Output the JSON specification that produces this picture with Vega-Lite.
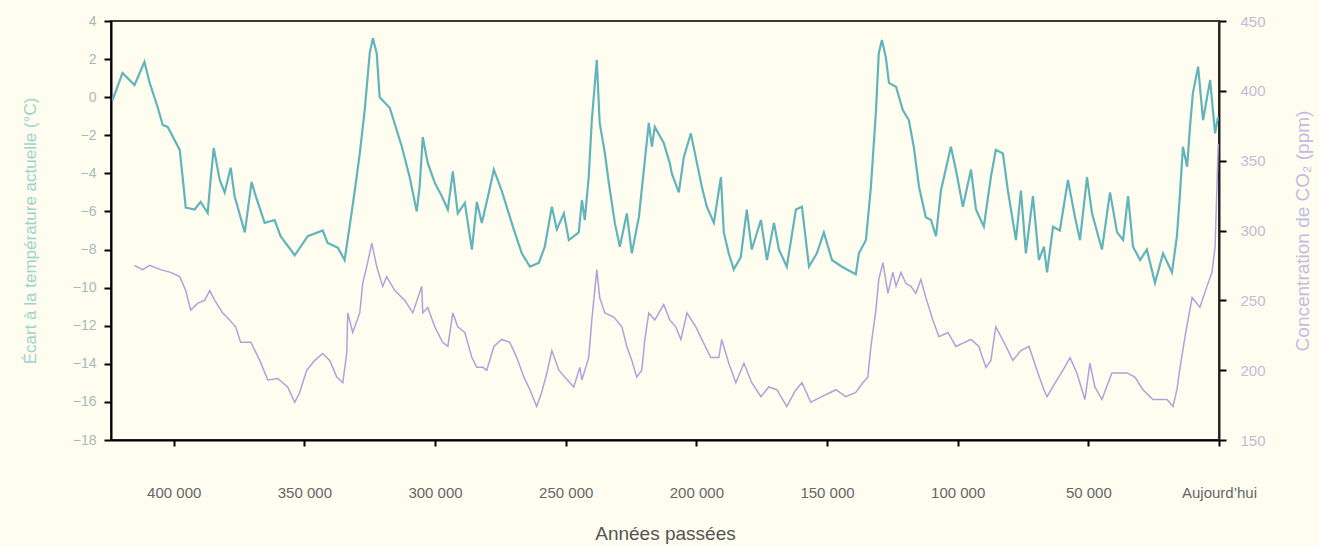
{
  "$schema": "https://vega.github.io/schema/vega-lite/v6.json",
  "width": 1108,
  "height": 419,
  "autosize": {"type": "none"},
  "padding": {"left": 111, "top": 21, "right": 100, "bottom": 106},
  "background": "#fffdf0",
  "config": {
    "view": {"stroke": "#3a3a3a", "strokeWidth": 2},
    "font": "Liberation Sans",
    "axis": {"grid": false, "labelFont": "Liberation Sans", "titleFont": "Liberation Sans", "titleFontWeight": "normal", "labelFontSize": 14, "titleFontSize": 17}
  },
  "datasets": {
    "temp": [
      {"annees": 423400, "temp": -0.15}, {"annees": 419600, "temp": 1.27}, {"annees": 415000, "temp": 0.64}, {"annees": 411200, "temp": 1.85},
      {"annees": 409200, "temp": 0.75}, {"annees": 406200, "temp": -0.5}, {"annees": 404200, "temp": -1.46}, {"annees": 402300, "temp": -1.56},
      {"annees": 397700, "temp": -2.77}, {"annees": 396600, "temp": -4.19}, {"annees": 395400, "temp": -5.8}, {"annees": 392000, "temp": -5.9},
      {"annees": 389700, "temp": -5.5}, {"annees": 387000, "temp": -6.08}, {"annees": 385900, "temp": -4.35}, {"annees": 384700, "temp": -2.67},
      {"annees": 382400, "temp": -4.35}, {"annees": 380500, "temp": -5.0}, {"annees": 378200, "temp": -3.7}, {"annees": 376700, "temp": -5.2},
      {"annees": 372800, "temp": -7.1}, {"annees": 370200, "temp": -4.45}, {"annees": 368600, "temp": -5.2}, {"annees": 365200, "temp": -6.6},
      {"annees": 361400, "temp": -6.45}, {"annees": 359100, "temp": -7.3}, {"annees": 353700, "temp": -8.3}, {"annees": 348700, "temp": -7.3},
      {"annees": 343000, "temp": -7.0}, {"annees": 341100, "temp": -7.65}, {"annees": 337200, "temp": -7.9}, {"annees": 334600, "temp": -8.55},
      {"annees": 332700, "temp": -6.8}, {"annees": 330700, "temp": -4.9}, {"annees": 328800, "temp": -2.95}, {"annees": 326900, "temp": -0.67},
      {"annees": 325000, "temp": 2.3}, {"annees": 323800, "temp": 3.1}, {"annees": 322300, "temp": 2.3}, {"annees": 321200, "temp": 0.0},
      {"annees": 317300, "temp": -0.57}, {"annees": 312700, "temp": -2.6}, {"annees": 309700, "temp": -4.2}, {"annees": 307000, "temp": -6.0},
      {"annees": 305900, "temp": -4.7}, {"annees": 304700, "temp": -2.1}, {"annees": 302800, "temp": -3.45}, {"annees": 300100, "temp": -4.5},
      {"annees": 297400, "temp": -5.2}, {"annees": 295100, "temp": -5.9}, {"annees": 293200, "temp": -3.9}, {"annees": 291300, "temp": -6.1},
      {"annees": 288600, "temp": -5.55}, {"annees": 285900, "temp": -8.0}, {"annees": 284000, "temp": -5.5}, {"annees": 282100, "temp": -6.6},
      {"annees": 279400, "temp": -5.0}, {"annees": 277500, "temp": -3.8}, {"annees": 274500, "temp": -4.9}, {"annees": 271800, "temp": -6.1},
      {"annees": 269500, "temp": -7.1}, {"annees": 266800, "temp": -8.2}, {"annees": 263700, "temp": -8.9}, {"annees": 260300, "temp": -8.7},
      {"annees": 258000, "temp": -7.85}, {"annees": 255300, "temp": -5.75}, {"annees": 253400, "temp": -6.95}, {"annees": 250700, "temp": -6.1},
      {"annees": 248800, "temp": -7.5}, {"annees": 245000, "temp": -7.1}, {"annees": 243800, "temp": -5.4}, {"annees": 242700, "temp": -6.45},
      {"annees": 241200, "temp": -4.2}, {"annees": 240000, "temp": -1.2}, {"annees": 238100, "temp": 1.95}, {"annees": 237000, "temp": -1.35},
      {"annees": 235000, "temp": -2.95}, {"annees": 233500, "temp": -4.5}, {"annees": 231200, "temp": -6.6}, {"annees": 229300, "temp": -7.85},
      {"annees": 226600, "temp": -6.1}, {"annees": 224700, "temp": -8.2}, {"annees": 222000, "temp": -6.3}, {"annees": 219700, "temp": -3.3},
      {"annees": 218200, "temp": -1.35}, {"annees": 217000, "temp": -2.6}, {"annees": 215900, "temp": -1.56}, {"annees": 212500, "temp": -2.4},
      {"annees": 210200, "temp": -3.45}, {"annees": 209400, "temp": -4.0}, {"annees": 206700, "temp": -5.0}, {"annees": 204800, "temp": -3.15},
      {"annees": 202100, "temp": -1.9}, {"annees": 199800, "temp": -3.45}, {"annees": 197900, "temp": -4.7}, {"annees": 196000, "temp": -5.75},
      {"annees": 193300, "temp": -6.6}, {"annees": 190600, "temp": -4.2}, {"annees": 189500, "temp": -7.1}, {"annees": 187600, "temp": -8.2},
      {"annees": 185700, "temp": -9.05}, {"annees": 183000, "temp": -8.4}, {"annees": 180700, "temp": -5.9}, {"annees": 178800, "temp": -8.0},
      {"annees": 175300, "temp": -6.45}, {"annees": 173000, "temp": -8.55}, {"annees": 170300, "temp": -6.6}, {"annees": 168400, "temp": -8.0},
      {"annees": 165400, "temp": -8.9}, {"annees": 161900, "temp": -5.9}, {"annees": 159600, "temp": -5.75}, {"annees": 156900, "temp": -8.9},
      {"annees": 153900, "temp": -8.2}, {"annees": 151200, "temp": -7.1}, {"annees": 148100, "temp": -8.55}, {"annees": 144300, "temp": -8.9},
      {"annees": 139000, "temp": -9.3}, {"annees": 137800, "temp": -8.2}, {"annees": 135100, "temp": -7.5}, {"annees": 133200, "temp": -4.7},
      {"annees": 131300, "temp": -0.8}, {"annees": 130200, "temp": 2.3}, {"annees": 129000, "temp": 3.0}, {"annees": 127500, "temp": 2.1},
      {"annees": 126300, "temp": 0.75}, {"annees": 123600, "temp": 0.55}, {"annees": 121000, "temp": -0.67}, {"annees": 118700, "temp": -1.2},
      {"annees": 116800, "temp": -2.6}, {"annees": 114800, "temp": -4.7}, {"annees": 112200, "temp": -6.3}, {"annees": 110200, "temp": -6.45},
      {"annees": 108300, "temp": -7.3}, {"annees": 106400, "temp": -4.9}, {"annees": 102600, "temp": -2.6}, {"annees": 100700, "temp": -3.8},
      {"annees": 98000, "temp": -5.75}, {"annees": 94900, "temp": -3.8}, {"annees": 93000, "temp": -5.9}, {"annees": 90000, "temp": -6.8},
      {"annees": 87300, "temp": -4.2}, {"annees": 85400, "temp": -2.77}, {"annees": 82700, "temp": -2.95}, {"annees": 80800, "temp": -4.9},
      {"annees": 77700, "temp": -7.5}, {"annees": 75800, "temp": -4.9}, {"annees": 73900, "temp": -8.2}, {"annees": 71200, "temp": -5.2},
      {"annees": 68900, "temp": -8.55}, {"annees": 67000, "temp": -7.85}, {"annees": 65800, "temp": -9.2}, {"annees": 63500, "temp": -6.8},
      {"annees": 60900, "temp": -7.0}, {"annees": 57800, "temp": -4.35}, {"annees": 55100, "temp": -6.3}, {"annees": 53200, "temp": -7.5},
      {"annees": 50500, "temp": -4.2}, {"annees": 48600, "temp": -6.1}, {"annees": 44800, "temp": -8.0}, {"annees": 41700, "temp": -5.0},
      {"annees": 39000, "temp": -7.1}, {"annees": 36700, "temp": -7.5}, {"annees": 34800, "temp": -5.2}, {"annees": 32900, "temp": -7.85},
      {"annees": 30200, "temp": -8.55}, {"annees": 27600, "temp": -8.0}, {"annees": 24500, "temp": -9.75}, {"annees": 21400, "temp": -8.2},
      {"annees": 18000, "temp": -9.2}, {"annees": 16100, "temp": -7.3}, {"annees": 14900, "temp": -5.0}, {"annees": 13800, "temp": -2.6},
      {"annees": 12200, "temp": -3.65}, {"annees": 11100, "temp": -1.56}, {"annees": 10000, "temp": 0.2}, {"annees": 8000, "temp": 1.6},
      {"annees": 6100, "temp": -1.2}, {"annees": 3400, "temp": 0.9}, {"annees": 1500, "temp": -1.9}, {"annees": 400, "temp": -1.05}
    ],
    "co2": [
      {"annees": 415000, "co2": 275}, {"annees": 411900, "co2": 272}, {"annees": 409200, "co2": 275}, {"annees": 405000, "co2": 272},
      {"annees": 401200, "co2": 270}, {"annees": 397700, "co2": 267}, {"annees": 395400, "co2": 257}, {"annees": 393500, "co2": 243},
      {"annees": 390800, "co2": 248}, {"annees": 388200, "co2": 250}, {"annees": 386200, "co2": 257}, {"annees": 384300, "co2": 250},
      {"annees": 381300, "co2": 241}, {"annees": 378600, "co2": 236}, {"annees": 376300, "co2": 231}, {"annees": 374400, "co2": 220},
      {"annees": 370500, "co2": 220}, {"annees": 367100, "co2": 207}, {"annees": 364000, "co2": 193}, {"annees": 360200, "co2": 194},
      {"annees": 356400, "co2": 188}, {"annees": 353700, "co2": 177}, {"annees": 351800, "co2": 184}, {"annees": 349100, "co2": 200},
      {"annees": 346000, "co2": 207}, {"annees": 343000, "co2": 212}, {"annees": 340300, "co2": 207}, {"annees": 337600, "co2": 195},
      {"annees": 335300, "co2": 191}, {"annees": 333800, "co2": 212}, {"annees": 333400, "co2": 241}, {"annees": 331500, "co2": 227},
      {"annees": 328800, "co2": 241}, {"annees": 327700, "co2": 262}, {"annees": 325800, "co2": 277}, {"annees": 324200, "co2": 291},
      {"annees": 322300, "co2": 274}, {"annees": 320000, "co2": 260}, {"annees": 318500, "co2": 267}, {"annees": 315400, "co2": 257},
      {"annees": 311600, "co2": 250}, {"annees": 308500, "co2": 241}, {"annees": 305100, "co2": 260}, {"annees": 304700, "co2": 241},
      {"annees": 302800, "co2": 245}, {"annees": 300100, "co2": 231}, {"annees": 297100, "co2": 220}, {"annees": 295100, "co2": 217},
      {"annees": 293200, "co2": 241}, {"annees": 291300, "co2": 231}, {"annees": 288600, "co2": 227}, {"annees": 285900, "co2": 209},
      {"annees": 284000, "co2": 202}, {"annees": 281700, "co2": 202}, {"annees": 280200, "co2": 200}, {"annees": 277500, "co2": 217},
      {"annees": 274500, "co2": 222}, {"annees": 271400, "co2": 220}, {"annees": 268700, "co2": 209}, {"annees": 266000, "co2": 195},
      {"annees": 263700, "co2": 186}, {"annees": 261100, "co2": 174}, {"annees": 259200, "co2": 184}, {"annees": 257200, "co2": 198},
      {"annees": 255300, "co2": 214}, {"annees": 252600, "co2": 200}, {"annees": 250300, "co2": 195}, {"annees": 246900, "co2": 188},
      {"annees": 244600, "co2": 202}, {"annees": 243800, "co2": 193}, {"annees": 241200, "co2": 209}, {"annees": 240000, "co2": 236},
      {"annees": 238100, "co2": 272}, {"annees": 237000, "co2": 252}, {"annees": 235000, "co2": 241}, {"annees": 231600, "co2": 238},
      {"annees": 228500, "co2": 231}, {"annees": 226600, "co2": 217}, {"annees": 224700, "co2": 207}, {"annees": 222800, "co2": 195},
      {"annees": 220900, "co2": 200}, {"annees": 219700, "co2": 222}, {"annees": 218200, "co2": 241}, {"annees": 215900, "co2": 236},
      {"annees": 212500, "co2": 247}, {"annees": 210200, "co2": 236}, {"annees": 207900, "co2": 231}, {"annees": 205900, "co2": 222},
      {"annees": 203600, "co2": 241}, {"annees": 200200, "co2": 231}, {"annees": 197900, "co2": 222}, {"annees": 194500, "co2": 209},
      {"annees": 191400, "co2": 209}, {"annees": 190300, "co2": 222}, {"annees": 187600, "co2": 205}, {"annees": 184900, "co2": 191},
      {"annees": 181800, "co2": 205}, {"annees": 178800, "co2": 191}, {"annees": 175300, "co2": 181}, {"annees": 172300, "co2": 188},
      {"annees": 169200, "co2": 186}, {"annees": 165400, "co2": 174}, {"annees": 161900, "co2": 186}, {"annees": 159600, "co2": 191},
      {"annees": 156200, "co2": 177}, {"annees": 152000, "co2": 181}, {"annees": 146600, "co2": 186}, {"annees": 142800, "co2": 181},
      {"annees": 139000, "co2": 184}, {"annees": 136300, "co2": 191}, {"annees": 134400, "co2": 195}, {"annees": 133200, "co2": 217},
      {"annees": 131300, "co2": 243}, {"annees": 130200, "co2": 265}, {"annees": 128600, "co2": 277}, {"annees": 126700, "co2": 255},
      {"annees": 124800, "co2": 270}, {"annees": 123600, "co2": 260}, {"annees": 121700, "co2": 270}, {"annees": 119800, "co2": 262},
      {"annees": 117900, "co2": 260}, {"annees": 116000, "co2": 255}, {"annees": 114100, "co2": 265}, {"annees": 112200, "co2": 252},
      {"annees": 109500, "co2": 236}, {"annees": 107200, "co2": 224}, {"annees": 103700, "co2": 227}, {"annees": 100700, "co2": 217},
      {"annees": 94900, "co2": 222}, {"annees": 91900, "co2": 217}, {"annees": 89200, "co2": 202}, {"annees": 87300, "co2": 207},
      {"annees": 85400, "co2": 231}, {"annees": 82300, "co2": 220}, {"annees": 78900, "co2": 207}, {"annees": 75800, "co2": 214},
      {"annees": 72700, "co2": 217}, {"annees": 69300, "co2": 198}, {"annees": 67000, "co2": 186}, {"annees": 65800, "co2": 181},
      {"annees": 62000, "co2": 193}, {"annees": 59700, "co2": 200}, {"annees": 57000, "co2": 209}, {"annees": 54400, "co2": 198},
      {"annees": 51300, "co2": 179}, {"annees": 49400, "co2": 205}, {"annees": 47500, "co2": 188}, {"annees": 44800, "co2": 179},
      {"annees": 41000, "co2": 198}, {"annees": 35200, "co2": 198}, {"annees": 32200, "co2": 195}, {"annees": 29100, "co2": 186},
      {"annees": 25300, "co2": 179}, {"annees": 19900, "co2": 179}, {"annees": 17600, "co2": 174}, {"annees": 16100, "co2": 186},
      {"annees": 14900, "co2": 202}, {"annees": 13000, "co2": 224}, {"annees": 10300, "co2": 252}, {"annees": 7300, "co2": 245},
      {"annees": 4600, "co2": 260}, {"annees": 2700, "co2": 270}, {"annees": 1500, "co2": 288}, {"annees": 800, "co2": 330},
      {"annees": 300, "co2": 362}
    ]
  },
  "layer": [
    {
      "data": {"name": "temp"},
      "mark": {"type": "line", "color": "#62b4bc", "strokeWidth": 2.2, "clip": true},
      "encoding": {
        "x": {
          "field": "annees", "type": "quantitative",
          "scale": {"domain": [0, 424000], "reverse": true, "nice": false, "zero": false},
          "axis": {
            "title": "Années passées", "titleColor": "#555555", "titleFontSize": 19, "titlePadding": 24,
            "values": [0, 50000, 100000, 150000, 200000, 250000, 300000, 350000, 400000],
            "labelExpr": "datum.value == 0 ? 'Aujourd\u2019hui' : replace(format(datum.value, ',d'), ',', ' ')",
            "labelColor": "#666666", "labelFontSize": 15, "labelPadding": 39, "labelFlush": false,
            "domainColor": "#000000", "domainWidth": 2, "tickColor": "#000000", "tickWidth": 2, "tickSize": 6
          }
        },
        "y": {
          "field": "temp", "type": "quantitative",
          "scale": {"domain": [-18, 4], "nice": false, "zero": false},
          "axis": {
            "title": "Écart à la température actuelle (°C)", "titleColor": "#9dd3cb", "titleFontSize": 17, "titlePadding": 33,
            "values": [-18, -16, -14, -12, -10, -8, -6, -4, -2, 0, 2, 4],
            "labelColor": "#a7bab4", "labelFontSize": 14, "labelPadding": 8,
            "domainColor": "#000000", "domainWidth": 2, "tickColor": "#000000", "tickWidth": 2, "tickSize": 7
          }
        }
      }
    },
    {
      "data": {"name": "co2"},
      "mark": {"type": "line", "color": "#aaa4dc", "strokeWidth": 1.5, "clip": true},
      "encoding": {
        "x": {"field": "annees", "type": "quantitative"},
        "y": {
          "field": "co2", "type": "quantitative",
          "scale": {"domain": [150, 450], "nice": false, "zero": false},
          "axis": {
            "orient": "right",
            "title": "Concentration de CO₂ (ppm)", "titleColor": "#c0bce2", "titleFontSize": 19, "titleAngle": 270, "titleBaseline": "top", "titlePadding": 28,
            "values": [150, 200, 250, 300, 350, 400, 450],
            "labelColor": "#bdbdd6", "labelFontSize": 15, "labelPadding": 14,
            "domainColor": "#222222", "domainWidth": 2, "tickColor": "#000000", "tickWidth": 2, "tickSize": 7
          }
        }
      }
    }
  ],
  "resolve": {"scale": {"y": "independent"}}
}
